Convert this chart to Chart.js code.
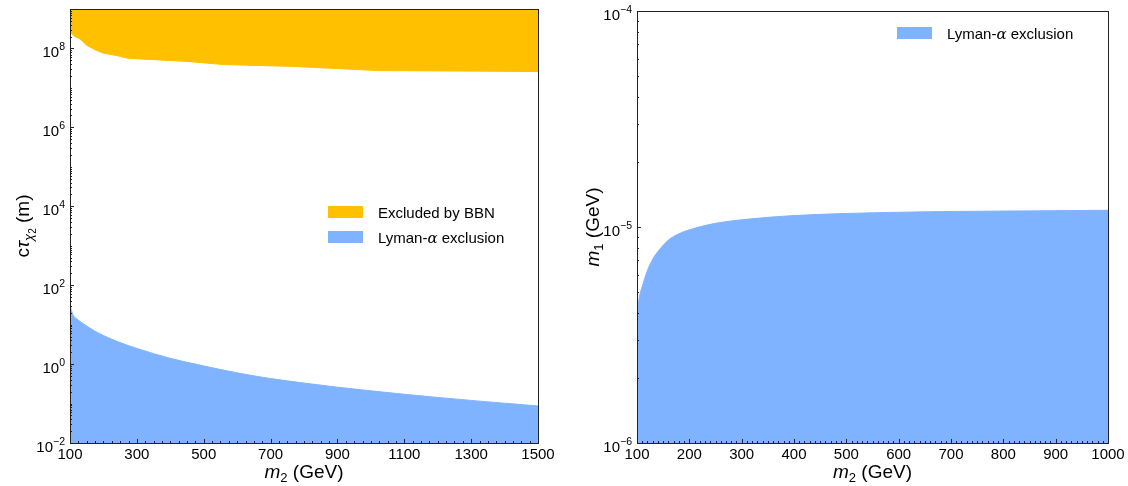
<!DOCTYPE html>
<html>
<head>
<meta charset="utf-8">
<script src="https://cdn.jsdelivr.net/npm/chart.js@4.4.1/dist/chart.umd.min.js"></script>
<style>
  body { margin: 0; background: #fff; }
  #wrap { position: relative; width: 1128px; height: 486px; }
  .panel { position: absolute; top: 0; width: 564px; height: 486px; }
</style>
</head>
<body>
<div id="wrap">
  <div class="panel" style="left:0"><canvas id="lifetime"></canvas></div>
  <div class="panel" style="left:564px"><canvas id="masses"></canvas></div>
</div>
<script>
// left panel: lifetime bounds vs m2
const bbnMass = [100, 115, 130, 150, 175, 200, 240, 275, 450, 560, 770, 1020, 1500];
const bbnTauMin = [2.6e8, 2.0e8, 1.75e8, 1.2e8, 9.3e7, 7.6e7, 6.6e7, 5.6e7, 4.7e7, 3.9e7, 3.5e7, 2.75e7, 2.6e7];
const lyaMass = [100, 102, 105, 110, 120, 140, 170, 200, 250, 300, 400, 500, 600, 700, 800, 900, 1000, 1100, 1200, 1300, 1400, 1500];
const lyaTauMax = [40, 28, 22, 17, 14, 10.5, 7.2, 5.3, 3.5, 2.5, 1.4, 0.9, 0.6, 0.43, 0.33, 0.26, 0.21, 0.172, 0.143, 0.12, 0.102, 0.087];
const leftXTicks = [100, 300, 500, 700, 900, 1100, 1300, 1500];
const leftYExps = [-2, 0, 2, 4, 6, 8];
const leftYRange = [1e-2, 1e9];

// right panel: m1 bound vs m2
const m1Mass = [100, 105, 110, 120, 130, 140, 160, 180, 200, 250, 300, 400, 500, 600, 700, 800, 900, 1000];
const m1Max = [4.0e-6, 4.8e-6, 5.3e-6, 6.3e-6, 7.1e-6, 7.7e-6, 8.7e-6, 9.3e-6, 9.7e-6, 1.04e-5, 1.08e-5, 1.13e-5, 1.155e-5, 1.17e-5, 1.18e-5, 1.185e-5, 1.19e-5, 1.195e-5];
const rightXTicks = [100, 200, 300, 400, 500, 600, 700, 800, 900, 1000];
const rightYExps = [-6, -5, -4];
const rightYRange = [1e-6, 1e-4];

const ORANGE = 'rgb(255,192,0)';
const BLUE = 'rgb(128,179,255)';
const FONT = '"Liberation Sans", Arial, Helvetica, sans-serif';

function points(xs, ys) {
  return xs.map((x, i) => ({x: x, y: ys[i]}));
}

// draws a run of differently styled pieces of text, centred on x
function richText(ctx, parts, x, y) {
  let widths = parts.map(p => { ctx.font = p.font; return ctx.measureText(p.t).width; });
  let total = widths.reduce((a, b) => a + b, 0);
  let cx = x - total / 2;
  parts.forEach((p, i) => {
    ctx.font = p.font;
    ctx.fillText(p.t, cx, y + (p.dy || 0));
    cx += widths[i];
  });
}

function leftText(ctx, parts, x, y) {
  let cx = x;
  parts.forEach(p => {
    ctx.font = p.font;
    ctx.fillText(p.t, cx, y + (p.dy || 0));
    cx += ctx.measureText(p.t).width;
  });
}

function rightText(ctx, parts, x, y) {
  let total = parts.reduce((w, p) => { ctx.font = p.font; return w + ctx.measureText(p.t).width; }, 0);
  leftText(ctx, parts, x - total, y);
}

const framePlugin = {
  id: 'frame',
  afterDatasetsDraw(chart, args, opts) {
    let ctx = chart.ctx, a = chart.chartArea;
    let xs = chart.scales.x, ys = chart.scales.y;
    ctx.save();
    ctx.strokeStyle = '#222';
    ctx.lineWidth = 1;
    ctx.beginPath();
    // x ticks along the bottom, pointing up
    for (let v = xs.min; v <= xs.max + 1e-9; v += opts.xMinor) {
      let px = Math.round(xs.getPixelForValue(v)) + 0.5;
      let len = opts.xMajor.indexOf(v) >= 0 ? 4 : 2;
      ctx.moveTo(px, a.bottom);
      ctx.lineTo(px, a.bottom - len);
    }
    // log y ticks along the left, pointing right
    let e0 = Math.round(Math.log10(ys.min)), e1 = Math.round(Math.log10(ys.max));
    for (let e = e0; e <= e1; e++) {
      for (let k = 1; k <= 9; k++) {
        let v = k * Math.pow(10, e);
        if (v > ys.max * 1.0001) break;
        let py = Math.round(ys.getPixelForValue(v)) + 0.5;
        let len = (k === 1 && opts.yMajor.indexOf(e) >= 0) ? 4 : 2;
        ctx.moveTo(a.left, py);
        ctx.lineTo(a.left + len, py);
      }
    }
    ctx.stroke();
    ctx.strokeRect(Math.round(a.left) + 0.5, Math.round(a.top) + 0.5,
      Math.round(a.right - a.left), Math.round(a.bottom - a.top));
    ctx.restore();
  },
  afterDraw(chart, args, opts) {
    let ctx = chart.ctx, a = chart.chartArea, ys = chart.scales.y;
    ctx.save();
    ctx.fillStyle = '#000';
    ctx.textBaseline = 'alphabetic';
    // y tick labels as 10 with a raised exponent
    ys.ticks.forEach(t => {
      let e = Math.round(Math.log10(t.value));
      let py = ys.getPixelForValue(t.value);
      rightText(ctx, [
        {t: '10', font: '15px ' + FONT},
        {t: String(e).replace('-', '\u2212'), font: '10.5px ' + FONT, dy: -7}
      ], a.left - 5, py + 9);
    });
    // x title
    richText(ctx, opts.xTitle, (a.left + a.right) / 2, 478);
    // y title, rotated
    ctx.translate(opts.yTitleX, (a.top + a.bottom) / 2);
    ctx.rotate(-Math.PI / 2);
    richText(ctx, opts.yTitle, 0, 7);
    ctx.restore();

    // legend boxes
    ctx.save();
    ctx.textBaseline = 'alphabetic';
    opts.legend.items.forEach((it, i) => {
      let y = opts.legend.y + i * opts.legend.gap;
      ctx.fillStyle = it.color;
      ctx.fillRect(opts.legend.x, y, 35, 12);
      ctx.fillStyle = '#000';
      leftText(ctx, it.parts, opts.legend.x + 50, y + 12);
    });
    ctx.restore();
  }
};

const mText = (s) => ({t: s, font: '19px ' + FONT});
const mItal = (s) => ({t: s, font: 'italic 19px ' + FONT});
const mSub = (s, ital) => ({t: s, font: (ital ? 'italic ' : '') + '13px ' + FONT, dy: 4});
const lyaLabel = [
  {t: 'Lyman-', font: '15px ' + FONT},
  {t: '\u03B1', font: 'italic 15px "DejaVu Serif", serif'},
  {t: ' exclusion', font: '15px ' + FONT}
];

function logAxis(exps, range, width) {
  return {
    type: 'logarithmic',
    min: range[0],
    max: range[1],
    afterBuildTicks: (s) => { s.ticks = exps.map(e => ({value: Math.pow(10, e)})); },
    afterFit: (s) => { s.width = width; },
    grid: {display: false, drawTicks: false},
    border: {display: false},
    ticks: {display: false}
  };
}

function linAxis(min, max, ticks) {
  return {
    type: 'linear',
    min: min,
    max: max,
    afterBuildTicks: (s) => { s.ticks = ticks.map(v => ({value: v})); },
    afterFit: (s) => { s.height = 43; },
    grid: {display: false, drawTicks: false},
    border: {display: false},
    ticks: {color: '#000', font: {family: FONT, size: 15}, padding: 3, maxRotation: 0,
      autoSkip: false, callback: (v) => String(v)}
  };
}

new Chart(document.getElementById('lifetime'), {
  type: 'scatter',
  data: {
    datasets: [
      {
        label: 'Excluded by BBN',
        data: points(bbnMass, bbnTauMin),
        showLine: true, pointRadius: 0, tension: 0,
        borderColor: ORANGE, borderWidth: 1, backgroundColor: ORANGE, fill: 'end'
      },
      {
        label: 'Lyman-\u03B1 exclusion',
        data: points(lyaMass, lyaTauMax),
        showLine: true, pointRadius: 0, cubicInterpolationMode: 'monotone',
        borderColor: BLUE, borderWidth: 1, backgroundColor: BLUE, fill: 'start'
      }
    ]
  },
  options: {
    responsive: true, maintainAspectRatio: false, animation: false,
    layout: {padding: {top: 9, right: 26, left: 0, bottom: 0}},
    scales: {x: linAxis(100, 1500, leftXTicks), y: logAxis(leftYExps, leftYRange, 70)},
    plugins: {
      legend: {display: false}, tooltip: {enabled: false},
      frame: {
        xMinor: 25, xMajor: leftXTicks, yMajor: leftYExps, yTitleX: 22,
        xTitle: [mItal('m'), mSub('2'), mText(' (GeV)')],
        yTitle: [mText('c'), mItal('\u03C4'), mSub('\u03C7', true), {t: '2', font: '10px ' + FONT, dy: 7}, mText(' (m)')],
        legend: {x: 328, y: 206, gap: 25, items: [
          {color: ORANGE, parts: [{t: 'Excluded by BBN', font: '15px ' + FONT}]},
          {color: BLUE, parts: lyaLabel}
        ]}
      }
    }
  },
  plugins: [framePlugin]
});

new Chart(document.getElementById('masses'), {
  type: 'scatter',
  data: {
    datasets: [{
      label: 'Lyman-\u03B1 exclusion',
      data: points(m1Mass, m1Max),
      showLine: true, pointRadius: 0, cubicInterpolationMode: 'monotone',
      borderColor: BLUE, borderWidth: 1, backgroundColor: BLUE, fill: 'start'
    }]
  },
  options: {
    responsive: true, maintainAspectRatio: false, animation: false,
    layout: {padding: {top: 11, right: 20, left: 0, bottom: 0}},
    scales: {x: linAxis(100, 1000, rightXTicks), y: logAxis(rightYExps, rightYRange, 73)},
    plugins: {
      legend: {display: false}, tooltip: {enabled: false},
      frame: {
        xMinor: 10, xMajor: rightXTicks, yMajor: rightYExps, yTitleX: 28,
        xTitle: [mItal('m'), mSub('2'), mText(' (GeV)')],
        yTitle: [mItal('m'), mSub('1'), mText(' (GeV)')],
        legend: {x: 333, y: 27, gap: 25, items: [{color: BLUE, parts: lyaLabel}]}
      }
    }
  },
  plugins: [framePlugin]
});
</script>
</body>
</html>
